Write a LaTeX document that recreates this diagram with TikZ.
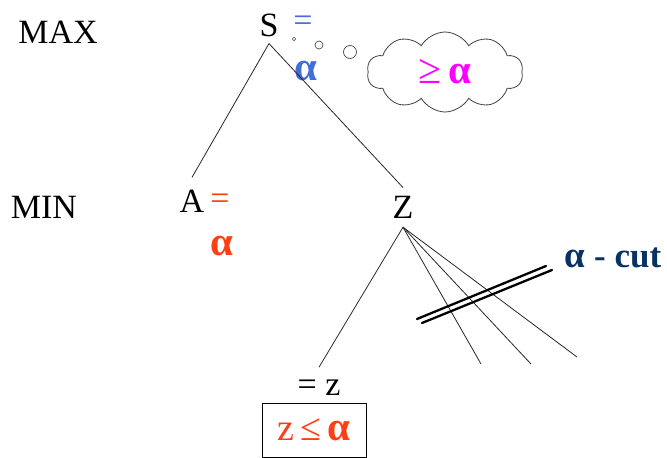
\documentclass[tikz,border=0pt]{standalone}
\usepackage{fontspec}
\setmainfont{Liberation Serif}
\usepackage{tikz}
\usetikzlibrary{shapes.symbols, positioning}
\definecolor{valblue}{RGB}{65,110,215}
\definecolor{valred}{RGB}{255,62,20}
\definecolor{valpink}{RGB}{255,0,255}
\definecolor{cutnavy}{RGB}{8,50,100}
\newcommand{\alf}{{\fontsize{41}{44}\selectfont\bfseries α}}

\begin{document}
\begin{tikzpicture}[
  x=1pt, y=-1pt,
  lbl/.style={font=\fontsize{34}{40}\selectfont, inner sep=0pt, anchor=base},
  bval/.style={lbl, text=valblue},
  rval/.style={lbl, text=valred},
  bubble/.style={circle, draw=black!70, line width=0.7pt, inner sep=0pt},
  edge/.style={draw=black!85, line width=0.8pt},
  cutline/.style={line width=2.3pt, line cap=round}
]
\useasboundingbox (0,0) rectangle (667,458);

% levels
\node[lbl] (max) at (58,43)  {MAX};
\node[lbl] (min) at (44,218) {MIN};

% tree nodes
\node[lbl] (s) at (269,36)  {S};
\node[lbl] (a) at (192,212) {A};
\node[lbl] (z) at (403,218) {Z};
\node[bval] (seq)    at (303,31) {=};
\node[bval] (salpha) at (306,80) {\alf};
\node[rval] (aeq)    at (220,209) {=};
\node[rval] (aalpha) at (222,255) {\alf};
\node[lbl] (zeq) at (319,395) {= z};
\node[draw, line width=0.8pt, minimum width=104pt, minimum height=54pt,
      font=\fontsize{38}{42}\selectfont, text=valred, inner sep=0pt]
  (zbox) at (314,430) {z\,≤\,\alf};

% thought
\node[bubble, minimum size=3.5pt] (b1) at (294,39) {};
\node[bubble, minimum size=8pt]   (b2) at (319,45) {};
\node[bubble, minimum size=13pt]  (b3) at (350,52) {};
\node[cloud, draw=black!75, line width=0.8pt, cloud puffs=10, cloud puff arc=120,
      aspect=1.9, minimum width=156pt, minimum height=80pt, inner sep=0pt,
      font=\fontsize{42}{46}\selectfont, text=valpink]
  (thought) at (445,72) {≥\,\alf};

% edges
\coordinate (z1) at (481,364);
\coordinate (z2) at (531,364);
\coordinate (z3) at (577,357);
\draw[edge] ([yshift=-7pt]s.south) -- ([yshift=12pt]a.north);
\draw[edge] ([yshift=-7pt]s.south) -- ([yshift=8pt]z.north);
\draw[edge] ([yshift=-9pt]z.south) -- ([yshift=12pt]zeq.north);
\draw[edge] ([yshift=-9pt]z.south) -- (z1);
\draw[edge] ([yshift=-9pt]z.south) -- (z2);
\draw[edge] ([yshift=-9pt]z.south) -- (z3);

% cut
\coordinate (c1) at (417,319);
\coordinate (c2) at (546,266);
\coordinate (c3) at (422,323);
\coordinate (c4) at (552,270);
\draw[cutline] (c1) -- (c2);
\draw[cutline] (c3) -- (c4);
\node[lbl, text=cutnavy, font=\fontsize{35}{40}\selectfont\bfseries]
  (cut) at (613,267) {{\fontsize{37}{40}\selectfont α} - cut};
\end{tikzpicture}
\end{document}
